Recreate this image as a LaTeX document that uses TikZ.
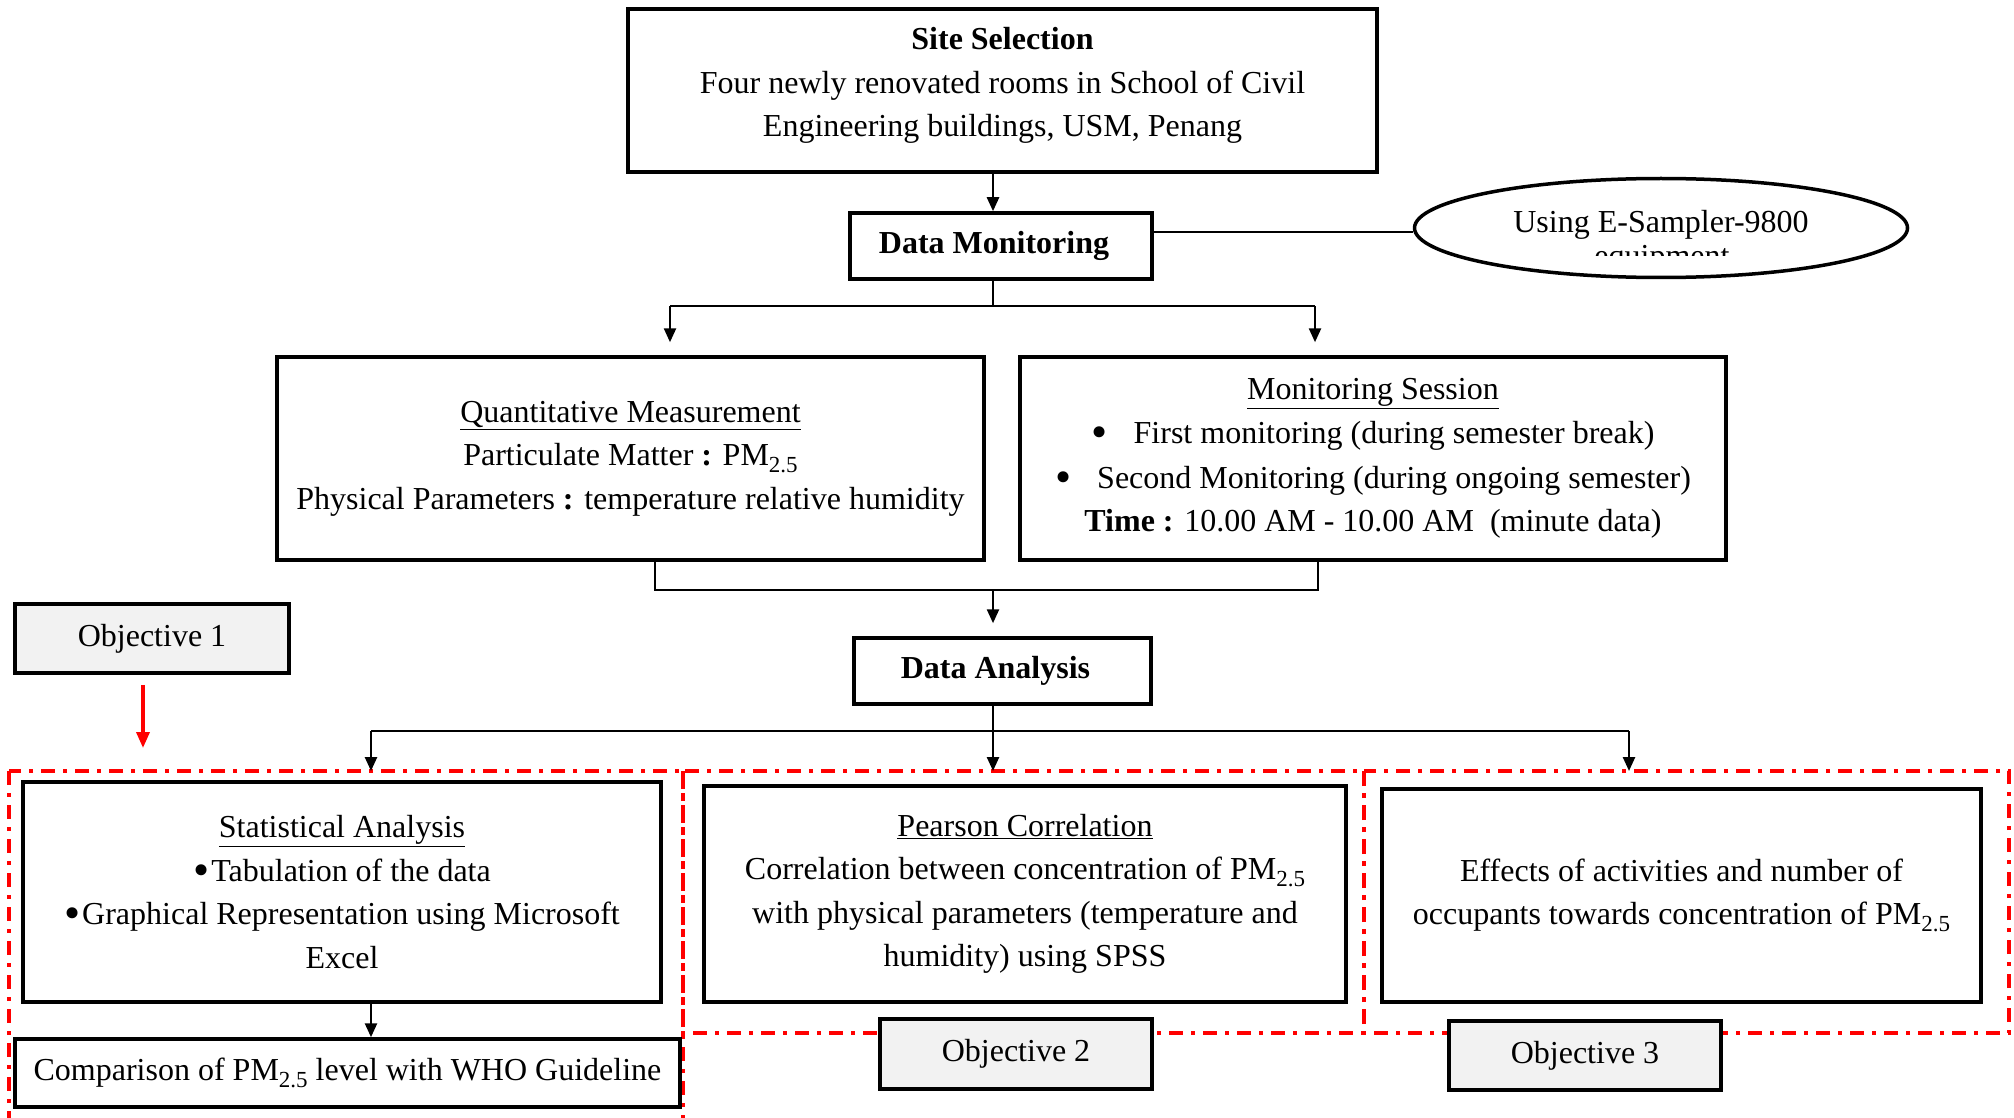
\documentclass[tikz,border=0pt]{standalone}
\usepackage{fontspec}
\setmainfont{Liberation Serif}
\usetikzlibrary{arrows.meta,shapes.geometric}
\definecolor{objgray}{HTML}{F2F2F2}
\newcommand\pmsub[1]{\raisebox{-7pt}{\fontsize{23}{23}\selectfont #1}}
\newcommand\bigbul{\raisebox{-4pt}{\fontsize{46}{43}\selectfont\textbullet}}
\tikzset{
 box/.style={draw=black, fill=white, line width=3.5pt, inner sep=0pt, align=center},
 objbox/.style={box, fill=objgray},
 conn/.style={line width=2.5pt},
 arr/.style={conn, -{Triangle[length=14pt,width=12pt]}},
 redframe/.style={draw=red, line width=4pt, dash pattern=on 14pt off 8pt on 4pt off 8pt},
 redarr/.style={draw=red, line width=3.5pt, -{Triangle[length=16pt,width=13pt]}},
}
\begin{document}
\begin{tikzpicture}[x=1pt,y=-1pt, font=\fontsize{32}{43.5}\selectfont]
\clip (0,0) rectangle (2014,1118);
\fill[white] (0,0) rectangle (2014,1118);

% red objective frames
\draw[redframe] (9,771) rectangle (683,1140);
\draw[redframe] (683,771) rectangle (1364,1033);
\draw[redframe] (1364,771) rectangle (2009,1033);

% nodes
\node[box, minimum width=749pt, minimum height=163pt] (site) at (1002.5,90.5) {};
\node[align=center, inner sep=0pt] (sitetext) at ([yshift=5pt]site.center)
  {\textbf{Site Selection}\\Four newly renovated rooms in School of Civil\\Engineering buildings, USM, Penang};
\node[box, minimum width=302pt, minimum height=66pt] (dm) at (1001,246) {\textbf{Data Monitoring}\hspace*{14pt}};
\node[draw, ellipse, line width=3.5pt, minimum width=493pt, minimum height=99pt, inner sep=0pt] (ell) at (1661,228) {};
\node[anchor=base] (elltext) at (1661,233) {Using E-Sampler-9800};
\begin{scope}
  \clip (1550,245) rectangle (1770,255.5);
  \node[anchor=base] (ellhidden) at (1662,266) {equipment};
\end{scope}

\node[box, minimum width=707pt, minimum height=203pt] (qm) at (630.5,458.5)
  {\underline{Quantitative Measurement}\\Particulate Matter \textbf{:} PM\pmsub{2.5}\\Physical Parameters \textbf{:} temperature relative humidity};
\node[box, minimum width=706pt, minimum height=203pt] (ms) at (1373,458.5)
  {\underline{Monitoring Session}\\[1pt]\bigbul\hspace{26pt}First monitoring (during semester break)\\[1pt]\bigbul\hspace{26pt}Second Monitoring (during ongoing semester)\\\textbf{Time :} 10.00 AM - 10.00 AM\ \ (minute data)};

\node[box, minimum width=297pt, minimum height=66pt] (da) at (1002.5,671) {\textbf{Data Analysis}\hspace*{14pt}};
\node[objbox, minimum width=274pt, minimum height=69pt] (ob1) at (152,638.5) {Objective 1};

\node[box, minimum width=638pt, minimum height=220pt] (sa) at (342,892)
  {\underline{Statistical Analysis}\\\bigbul\hspace{2pt}Tabulation of the data\\\bigbul\hspace{2pt}Graphical Representation using Microsoft\\Excel};
\node[box, minimum width=665pt, minimum height=68pt] (cmp) at (347.5,1073)
  {Comparison of PM\pmsub{2.5} level with WHO Guideline};
\node[box, minimum width=642pt, minimum height=216pt] (pc) at (1025,894)
  {\underline{Pearson Correlation}\\Correlation between concentration of PM\pmsub{2.5}\\with physical parameters (temperature and\\humidity) using SPSS};
\node[box, minimum width=599pt, minimum height=213pt] (ef) at (1681.5,895.5)
  {Effects of activities and number of\\occupants towards concentration of PM\pmsub{2.5}};
\node[objbox, minimum width=272pt, minimum height=70pt] (ob2) at (1016,1054) {Objective 2};
\node[objbox, minimum width=272pt, minimum height=69pt] (ob3) at (1585,1055.5) {Objective 3};

% helper coordinates
\coordinate (cx) at (993,0);
\coordinate (ly) at (0,232);
\coordinate (qa) at (670,306);
\coordinate (ma) at (1315,306);
\coordinate (bl) at (655,590);
\coordinate (br) at (1318,590);
\coordinate (sa2) at (371,731);
\coordinate (ef2) at (1629,731);
\coordinate (ftop) at (0,771);
\coordinate (ra) at (143,748);

% connectors
\draw[arr] (site.south -| cx) -- (dm.north -| cx);
\draw[conn] (dm.east |- ly) -- (ell.west |- ly);
\draw[conn] (dm.south -| cx) -- (cx |- qa);
\draw[conn] (qa) -- (ma);
\draw[arr, shorten >=13pt] (qa) -- (qa |- qm.north);
\draw[arr, shorten >=13pt] (ma) -- (ma |- ms.north);
\draw[conn] (bl |- qm.south) -- (bl) -- (br) -- (br |- ms.south);
\draw[arr, shorten >=13pt] (cx |- bl) -- (da.north -| cx);
\draw[conn] (sa2) -- (ef2);
\draw[arr] (da.south -| cx) -- (cx |- ftop);
\draw[arr] (sa2) -- (sa2 |- ftop);
\draw[arr] (ef2) -- (ef2 |- ftop);
\draw[arr] (sa.south -| sa2) -- (cmp.north -| sa2);
\draw[redarr, shorten <=10pt] (ob1.south -| ra) -- (ra);
\end{tikzpicture}
\end{document}
